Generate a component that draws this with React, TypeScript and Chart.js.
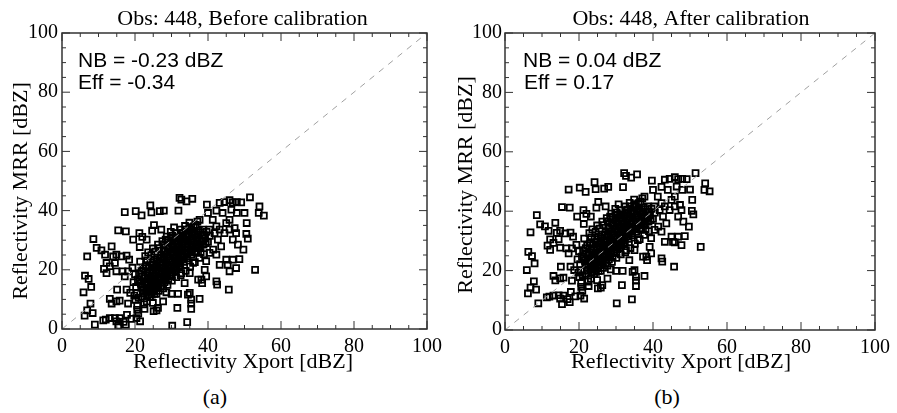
import React, { useEffect, useRef } from "react";
import { Chart, registerables } from "chart.js";
Chart.register(...registerables);

// ---------------- data ----------------
const BEFORE_POINTS: [number, number][] = [
  [8.6,30.4],[6.9,24.5],[9.5,27.4],[6.3,18.0],[7.3,16.9],[8.0,14.2],[5.9,12.4],[7.8,8.6],[6.9,6.3],[8.4,5.4],[6.2,4.5],[9.0,1.5],
  [10.8,26.6],[11.8,25.1],[12.2,22.3],[11.5,20.3],[13.6,27.9],[14.0,24.5],[14.9,25.1],[14.5,22.3],[13.1,21.2],[14.9,19.5],[12.2,18.9],
  [15.4,33.3],[17.5,33.0],[17.2,39.5],[20.2,39.8],[21.8,38.4],[24.2,41.8],[24.5,39.4],[26.8,39.8],[27.9,40.0],
  [15.1,13.3],[13.1,10.2],[13.6,8.6],[14.9,9.3],[15.8,9.6],[12.0,3.2],[11.3,2.9],[13.1,3.7],[14.5,3.7],[14.9,2.6],[15.4,1.1],[15.8,3.7],[16.9,2.4],[17.8,4.8],[17.5,1.5],[19.0,3.4],[20.4,3.7],[21.4,2.6],[20.9,5.2],[20.6,6.5],[18.1,8.6],[18.7,12.2],[17.7,13.3],[17.2,17.8],[16.6,19.5],[18.1,19.5],[16.3,24.5],[17.7,24.8],[18.4,23.4],
  [19.5,30.2],[21.2,32.4],[22.0,31.1],[23.2,30.2],[25.2,35.1],[24.7,33.2],[27.2,33.6],[21.3,27.7],[28.4,30.2],[29.8,32.8],[30.7,34.3],
  [32.2,44.3],[32.7,43.7],[34.1,43.1],[35.7,44.0],[31.9,40.0],[39.7,42.0],[42.3,40.0],[43.2,42.6],[44.5,42.9],[45.9,43.5],[46.8,42.8],[47.9,42.9],[49.1,42.8],[46.4,40.3],[47.9,39.2],[50.0,39.2],[51.5,44.5],[54.1,41.4],[53.9,39.2],[55.3,38.3],
  [50.6,35.8],[50.5,32.1],[50.9,30.5],[49.7,26.8],[48.6,23.6],[47.7,20.6],[45.9,19.5],[45.7,13.3],[52.9,20.0],[46.8,23.4],[45.0,23.4],[45.4,21.7],[45.9,33.6],[47.3,34.1],[47.7,32.4],[46.8,30.2],[48.2,28.5],[44.5,32.4],[43.2,33.6],[42.7,30.2],[43.6,27.9],[42.3,25.1],[41.4,26.8],[43.2,21.7],[42.3,16.1],[42.5,15.0],
  [39.5,22.9],[40.4,25.7],[39.1,20.0],[39.5,17.8],[38.4,15.5],[38.2,16.7],[37.3,16.7],[37.7,10.2],[35.4,9.9],[35.0,12.2],[34.5,11.6],[35.4,8.6],[35.4,6.8],[34.3,2.3],[30.2,1.1],[31.6,7.1],[31.8,11.9],[30.0,11.9],[28.6,12.4],[27.7,9.3],[25.9,6.3],[26.3,7.1],[25.1,6.0],[22.6,6.8],[23.2,9.3],[24.9,8.8],[25.9,11.9],[33.6,15.5],[32.7,18.9],[35.0,18.9],[35.9,22.3],[36.8,25.7],[37.7,36.9],[38.6,33.6],[40.0,39.2],[40.4,33.6],[41.3,36.9],[42.3,34.7],[41.8,32.4],[44.0,39.2],[45.0,35.8],[45.9,36.9],
  [20.3,14.2],[20.8,16.7],[21.1,18.9],[20.5,12.1],[21.6,15.3],[21.9,17.8],[22.2,20.4],[22.4,13.1],[22.7,15.9],[22.9,18.2],[23.1,21.6],[23.3,11.4],[23.5,14.6],[23.8,16.9],[24.0,19.3],[24.2,22.5],[24.4,12.6],[24.6,15.1],[24.8,17.7],[25.0,20.2],[25.2,23.4],[25.4,13.8],[25.6,16.2],[25.8,18.6],[26.0,21.3],[26.2,24.1],[26.4,14.7],[26.6,17.4],[26.8,19.8],[27.0,22.3],[27.2,25.0],[27.4,15.6],[27.6,18.3],[27.8,20.9],[28.0,23.6],[28.2,26.2],[28.4,16.8],[28.6,19.4],[28.8,21.8],[29.0,24.5],[29.2,27.3],[29.4,17.9],[29.6,20.6],[29.8,23.1],[30.0,25.7],[30.2,28.4],[30.4,19.2],[30.6,21.7],[30.8,24.3],[31.0,26.8],[31.2,29.5],[31.4,20.3],[31.6,22.9],[31.8,25.4],[32.0,27.9],[32.2,30.6],[32.4,21.6],[32.6,24.1],[32.8,26.5],[33.0,29.0],[33.2,31.4],[33.4,22.7],[33.6,25.2],[33.8,27.6],[34.0,30.1],[34.2,32.3],[34.4,23.9],[34.6,26.4],[34.8,28.7],[35.0,31.2],[35.2,33.5],[35.5,25.1],[35.8,27.5],[36.0,29.8],[36.3,32.1],[36.6,26.3],[36.9,28.6],[37.2,30.9],[37.5,33.2],[37.8,27.4],[38.1,29.7],[38.4,31.9],[38.8,28.5],[39.2,30.6],[39.6,32.8],[40.0,29.4],[40.5,31.5],
  [21.4,22.8],[22.8,24.6],[23.6,25.9],[24.9,27.2],[26.3,28.5],[27.5,29.7],[28.7,31.2],[29.9,30.5],[31.1,32.4],[32.5,33.6],[33.7,34.8],[34.9,35.9],[36.1,34.7],[37.1,36.3],
  [23.0,12.5],[24.1,10.8],[25.3,11.9],[26.5,12.9],[27.7,13.7],[28.9,14.9],[30.1,16.3],[31.3,17.5],[32.5,18.2],[33.9,19.6],[35.1,21.1],[36.4,22.6],[37.6,24.0],[38.9,25.3],
  [21.7,13.9],[22.1,10.9],[20.0,18.5],[19.6,15.8],[19.3,20.7],[20.1,9.8],[19.8,11.3],[20.6,7.9],[21.0,10.5],[22.5,8.3],[23.9,13.2],[26.1,15.4],[27.3,17.1],[28.1,18.0],[29.3,19.8],[30.7,20.9],[31.9,22.2],[33.1,23.4],[34.3,24.6],[35.6,26.7],[36.8,27.9],[38.0,25.9],
  [21.3,16.0],[21.8,19.6],[22.0,14.4],[22.6,17.1],[22.9,21.0],[23.4,15.5],[23.7,18.0],[23.9,20.8],[24.3,14.0],[24.5,16.4],[24.7,19.0],[24.9,21.7],[25.1,12.8],[25.3,15.2],[25.5,17.6],[25.7,20.1],[25.9,22.7],[26.1,13.9],[26.3,16.6],[26.5,19.0],[26.7,21.5],[26.9,24.0],[27.1,14.5],[27.3,19.2],[27.5,21.6],[27.7,24.2],[27.9,26.6],[28.1,15.8],[28.3,20.2],[28.5,22.6],[28.7,25.1],[28.9,27.7],[29.1,16.5],[29.3,21.1],[29.5,23.7],[29.7,26.2],[29.9,28.9],[30.1,18.0],[30.3,22.5],[30.5,25.0],[30.7,27.4],[30.9,29.9],[31.1,19.7],[31.3,24.0],[31.5,26.1],[31.7,28.4],[31.9,30.8],[32.1,21.0],[32.3,23.2],[32.5,25.5],[32.7,27.6],[32.9,30.2],[33.1,32.5],[33.3,24.3],[33.5,26.5],[33.7,28.8],[33.9,31.1],[34.1,25.4],[34.3,27.7],[34.5,29.6],[34.7,31.9],[34.9,33.8],[35.3,26.0],[35.6,28.4],[35.9,30.7],[36.2,33.0],[36.5,27.2],[36.8,29.5],[37.1,31.8],[37.4,28.0],[37.7,30.3],[38.0,32.6],[38.5,29.9],[39.0,31.6],[39.4,29.0],
  [22.3,12.0],[23.2,13.6],[24.6,11.6],[25.8,14.9],[26.9,16.4],[27.9,17.3],[28.8,18.6],[30.0,21.0],[31.2,23.3],[32.3,26.7],[23.3,23.2],[24.5,25.0],[25.6,26.1],[26.7,27.3],[27.8,28.6],[29.0,29.8],[30.2,31.5],[31.4,31.0],[32.8,32.2],[34.0,33.6],[35.4,34.4],[36.6,35.2]
];

const AFTER_POINTS: [number, number][] = [
  [8.6,38.7],[6.9,32.9],[9.5,35.6],[6.3,26.3],[7.3,24.9],[8.0,22.4],[5.9,20.2],[7.8,16.4],[6.9,14.3],[8.4,13.6],[6.2,12.3],[9.0,9.0],
  [10.8,34.9],[11.8,33.4],[12.2,30.5],[11.5,28.4],[13.6,36.1],[14.0,32.7],[14.9,33.4],[14.5,30.6],[13.1,29.3],[14.9,27.7],[12.2,27.0],
  [15.4,41.4],[17.5,41.2],[17.2,47.3],[20.2,47.9],[21.8,46.5],[24.2,49.8],[24.5,47.4],[26.8,47.6],[27.9,48.2],
  [15.1,21.3],[13.1,18.2],[13.6,16.7],[14.9,17.4],[15.8,17.6],[12.0,11.2],[11.3,11.0],[13.1,11.6],[14.5,11.7],[14.9,10.6],[15.4,8.7],[15.8,11.6],[16.9,10.4],[17.8,12.8],[17.5,9.4],[19.0,11.3],[20.4,11.6],[21.4,10.6],[20.9,13.2],[20.6,14.5],[18.1,16.6],[18.7,20.2],[17.7,21.3],[17.2,25.8],[16.6,27.5],[18.1,27.5],[16.3,32.5],[17.7,32.8],[18.4,31.4],
  [19.5,38.2],[21.2,40.4],[22.0,39.1],[23.2,38.2],[25.2,43.1],[24.7,41.2],[27.2,41.6],[21.3,35.7],[28.4,38.2],[29.8,40.8],[30.7,42.3],
  [32.2,52.8],[32.7,51.9],[34.1,51.3],[35.7,52.4],[31.9,48.1],[39.7,50.3],[42.3,48.2],[43.2,50.6],[44.5,50.9],[45.9,51.5],[46.8,50.8],[47.9,50.9],[49.1,50.8],[46.4,48.3],[47.9,47.2],[50.0,47.3],[51.5,52.8],[54.1,49.4],[53.9,47.2],[55.3,46.7],
  [50.6,43.8],[50.5,40.1],[50.9,38.9],[49.7,34.8],[48.6,31.6],[47.7,28.6],[45.9,29.5],[45.7,21.3],[52.9,28.0],[46.8,31.4],[45.0,31.4],[45.4,29.7],[45.9,41.6],[47.3,42.1],[47.7,40.4],[46.8,38.2],[48.2,36.5],[44.5,40.4],[43.2,41.6],[42.7,38.2],[43.6,35.9],[42.3,33.1],[41.4,34.8],[43.2,29.7],[42.3,24.1],[42.5,23.0],
  [39.5,30.9],[40.4,33.7],[39.1,28.0],[39.5,25.8],[38.4,23.5],[38.2,24.7],[37.3,24.7],[37.7,18.2],[35.4,17.9],[35.0,20.2],[34.5,19.6],[35.4,16.6],[35.4,14.8],[34.3,10.3],[30.2,9.0],[31.6,15.1],[31.8,19.9],[30.0,19.9],[28.6,20.4],[27.7,17.3],[25.9,14.3],[26.3,15.1],[25.1,14.0],[22.6,14.8],[23.2,17.3],[24.9,16.8],[25.9,19.9],[33.6,23.5],[32.7,26.9],[35.0,26.9],[35.9,30.3],[36.8,33.7],[37.7,44.9],[38.6,41.6],[40.0,47.2],[40.4,41.6],[41.3,44.9],[42.3,42.7],[41.8,40.4],[44.0,47.2],[45.0,43.8],[45.9,44.9],
  [20.3,22.2],[20.8,24.7],[21.1,26.9],[20.5,20.1],[21.6,23.3],[21.9,25.8],[22.2,28.4],[22.4,21.1],[22.7,23.9],[22.9,26.2],[23.1,29.6],[23.3,19.4],[23.5,22.6],[23.8,24.9],[24.0,27.3],[24.2,30.5],[24.4,20.6],[24.6,23.1],[24.8,25.7],[25.0,28.2],[25.2,31.4],[25.4,21.8],[25.6,24.2],[25.8,26.6],[26.0,29.3],[26.2,32.1],[26.4,22.7],[26.6,25.4],[26.8,27.8],[27.0,30.3],[27.2,33.0],[27.4,23.6],[27.6,26.3],[27.8,28.9],[28.0,31.6],[28.2,34.2],[28.4,24.8],[28.6,27.4],[28.8,29.8],[29.0,32.5],[29.2,35.3],[29.4,25.9],[29.6,28.6],[29.8,31.1],[30.0,33.7],[30.2,36.4],[30.4,27.2],[30.6,29.7],[30.8,32.3],[31.0,34.8],[31.2,37.5],[31.4,28.3],[31.6,30.9],[31.8,33.4],[32.0,35.9],[32.2,38.6],[32.4,29.6],[32.6,32.1],[32.8,34.5],[33.0,37.0],[33.2,39.4],[33.4,30.7],[33.6,33.2],[33.8,35.6],[34.0,38.1],[34.2,40.3],[34.4,31.9],[34.6,34.4],[34.8,36.7],[35.0,39.2],[35.2,41.5],[35.5,33.1],[35.8,35.5],[36.0,37.8],[36.3,40.1],[36.6,34.3],[36.9,36.6],[37.2,38.9],[37.5,41.2],[37.8,35.4],[38.1,37.7],[38.4,39.9],[38.8,36.5],[39.2,38.6],[39.6,40.8],[40.0,37.4],[40.5,39.5],
  [21.4,30.8],[22.8,32.6],[23.6,33.9],[24.9,35.2],[26.3,36.5],[27.5,37.7],[28.7,39.2],[29.9,38.5],[31.1,40.4],[32.5,41.6],[33.7,42.8],[34.9,43.9],[36.1,42.7],[37.1,44.3],
  [23.0,20.5],[24.1,18.8],[25.3,19.9],[26.5,20.9],[27.7,21.7],[28.9,22.9],[30.1,24.3],[31.3,25.5],[32.5,26.2],[33.9,27.6],[35.1,29.1],[36.4,30.6],[37.6,32.0],[38.9,33.3],
  [21.7,21.9],[22.1,18.9],[20.0,26.5],[19.6,23.8],[19.3,28.7],[20.1,17.8],[19.8,19.3],[20.6,15.9],[21.0,18.5],[22.5,16.3],[23.9,21.2],[26.1,23.4],[27.3,25.1],[28.1,26.0],[29.3,27.8],[30.7,28.9],[31.9,30.2],[33.1,31.4],[34.3,32.6],[35.6,34.7],[36.8,35.9],[38.0,33.9],
  [21.3,24.0],[21.8,27.6],[22.0,22.4],[22.6,25.1],[22.9,29.0],[23.4,23.5],[23.7,26.0],[23.9,28.8],[24.3,22.0],[24.5,24.4],[24.7,27.0],[24.9,29.7],[25.1,20.8],[25.3,23.2],[25.5,25.6],[25.7,28.1],[25.9,30.7],[26.1,21.9],[26.3,24.6],[26.5,27.0],[26.7,29.5],[26.9,32.0],[27.1,22.5],[27.3,27.2],[27.5,29.6],[27.7,32.2],[27.9,34.6],[28.1,23.8],[28.3,28.2],[28.5,30.6],[28.7,33.1],[28.9,35.7],[29.1,24.5],[29.3,29.1],[29.5,31.7],[29.7,34.2],[29.9,36.9],[30.1,26.0],[30.3,30.5],[30.5,33.0],[30.7,35.4],[30.9,37.9],[31.1,27.7],[31.3,32.0],[31.5,34.1],[31.7,36.4],[31.9,38.8],[32.1,29.0],[32.3,31.2],[32.5,33.5],[32.7,35.6],[32.9,38.2],[33.1,40.5],[33.3,32.3],[33.5,34.5],[33.7,36.8],[33.9,39.1],[34.1,33.4],[34.3,35.7],[34.5,37.6],[34.7,39.9],[34.9,41.8],[35.3,34.0],[35.6,36.4],[35.9,38.7],[36.2,41.0],[36.5,35.2],[36.8,37.5],[37.1,39.8],[37.4,36.0],[37.7,38.3],[38.0,40.6],[38.5,37.9],[39.0,39.6],[39.4,37.0],
  [22.3,20.0],[23.2,21.6],[24.6,19.6],[25.8,22.9],[26.9,24.4],[27.9,25.3],[28.8,26.6],[30.0,29.0],[31.2,31.3],[32.3,34.7],[23.3,31.2],[24.5,33.0],[25.6,34.1],[26.7,35.3],[27.8,36.6],[29.0,37.8],[30.2,39.5],[31.4,39.0],[32.8,40.2],[34.0,41.6],[35.4,42.4],[36.6,43.2]
];

const DIAGONAL: [number, number][] = [[0, 0], [100, 100]];
const MAJOR_TICKS = [0, 20, 40, 60, 80, 100];
const MINOR_TICKS = [0, 5, 10, 15, 20, 25, 30, 35, 40, 45, 50, 55, 60, 65, 70, 75, 80, 85, 90, 95, 100];
const TITLES = ["Obs: 448, Before calibration", "Obs: 448, After calibration"];
const NB_LABELS = ["NB = -0.23 dBZ", "NB = 0.04 dBZ"];
const EFF_LABELS = ["Eff = -0.34", "Eff = 0.17"];
const X_TITLE = "Reflectivity Xport [dBZ]";
const Y_TITLE = "Reflectivity MRR [dBZ]";
const CAPTIONS = ["(a)", "(b)"];

const SERIF = '"Liberation Serif", "Times New Roman", serif';
const SANS = '"Liberation Sans", Arial, sans-serif';

const decorPlugin = {
  id: "panelDecor",
  afterDraw(chart: any, _args: any, opts: any) {
    const { ctx, chartArea: a, scales } = chart;
    const xs = scales.x;
    const ys = scales.y;
    ctx.save();
    ctx.strokeStyle = "#333";
    ctx.lineWidth = 1;
    const line = (x1: number, y1: number, x2: number, y2: number) => {
      ctx.beginPath();
      ctx.moveTo(x1, y1);
      ctx.lineTo(x2, y2);
      ctx.stroke();
    };
    for (const v of MINOR_TICKS) {
      const len = MAJOR_TICKS.includes(v) ? 8 : 4;
      const px = xs.getPixelForValue(v);
      line(px, a.bottom, px, a.bottom - len);
      line(px, a.top, px, a.top + len);
      const py = ys.getPixelForValue(v);
      line(a.left, py, a.left + len, py);
      line(a.right, py, a.right - len, py);
    }
    ctx.lineWidth = 1.5;
    ctx.strokeRect(a.left, a.top, a.right - a.left, a.bottom - a.top);

    ctx.fillStyle = "#000";
    ctx.font = "22px " + SERIF;
    ctx.textAlign = "center";
    ctx.textBaseline = "middle";
    ctx.fillText(opts.title, opts.titleX, opts.titleY);
    ctx.fillText(X_TITLE, opts.xTitleX, opts.xTitleY);
    ctx.save();
    ctx.translate(opts.yTitleX, opts.yTitleY);
    ctx.rotate(-Math.PI / 2);
    ctx.fillText(Y_TITLE, 0, 0);
    ctx.restore();

    ctx.font = "21px " + SANS;
    ctx.textAlign = "left";
    ctx.fillText(opts.nb, opts.annX, opts.nbY);
    ctx.fillText(opts.eff, opts.annX + opts.effDx, opts.effY);
    ctx.restore();
  },
};

type PanelProps = {
  points: [number, number][];
  title: string;
  nb: string;
  eff: string;
  width: number;
  height: number;
  yAxisWidth: number;
  xAxisHeight: number;
  padRight: number;
  yTickPad: number;
  decor: any;
};

function Panel(p: PanelProps) {
  const ref = useRef<HTMLCanvasElement | null>(null);
  useEffect(() => {
    if (!ref.current) return;
    const chart = new Chart(ref.current, {
      type: "scatter",
      data: {
        datasets: [
          {
            type: "line",
            data: DIAGONAL.map(([x, y]) => ({ x, y })),
            borderColor: "#a0a0a0",
            borderWidth: 1,
            borderDash: [6, 6],
            pointRadius: 0,
            fill: false,
          } as any,
          {
            data: p.points.map(([x, y]) => ({ x, y })),
            pointStyle: "rect",
            pointRadius: 4.2,
            pointBorderWidth: 1.8,
            pointBorderColor: "#000",
            pointBackgroundColor: "rgba(0,0,0,0)",
            borderColor: "#000",
            backgroundColor: "rgba(0,0,0,0)",
            showLine: false,
          } as any,
        ],
      },
      options: {
        animation: false,
        responsive: false,
        events: [],
        layout: { padding: { top: 33, right: p.padRight, bottom: 0, left: 0 } },
        plugins: {
          legend: { display: false },
          tooltip: { enabled: false },
          title: { display: false },
          panelDecor: { ...p.decor, title: p.title, nb: p.nb, eff: p.eff },
        } as any,
        scales: {
          x: {
            type: "linear",
            min: 0,
            max: 100,
            grid: { display: false, drawTicks: false },
            border: { display: false },
            ticks: {
              stepSize: 20,
              padding: 6,
              color: "#000",
              font: { family: SERIF, size: 20 },
              maxRotation: 0,
              autoSkip: false,
            },
            afterFit: (s: any) => {
              s.height = p.xAxisHeight;
            },
          },
          y: {
            type: "linear",
            min: 0,
            max: 100,
            grid: { display: false, drawTicks: false },
            border: { display: false },
            ticks: {
              stepSize: 20,
              padding: p.yTickPad,
              color: "#000",
              font: { family: SERIF, size: 20 },
              autoSkip: false,
            },
            afterFit: (s: any) => {
              s.width = p.yAxisWidth;
            },
          },
        },
      },
      plugins: [decorPlugin as any],
    });
    return () => chart.destroy();
  }, []);
  return <canvas ref={ref} width={p.width} height={p.height} style={{ width: p.width, height: p.height, display: "block" }} />;
}

export default function App() {
  return (
    <div style={{ position: "absolute", left: 0, top: 0, width: 897, height: 413, background: "#fff", overflow: "hidden" }}>
      <div style={{ position: "absolute", left: 0, top: 0 }}>
        <Panel
          points={BEFORE_POINTS}
          title={TITLES[0]}
          nb={NB_LABELS[0]}
          eff={EFF_LABELS[0]}
          width={448}
          height={380}
          yAxisWidth={62}
          xAxisHeight={51}
          padRight={20}
          yTickPad={4}
          decor={{ titleX: 242.5, titleY: 19.5, xTitleX: 243, xTitleY: 362, yTitleX: 21, yTitleY: 191, annX: 78, nbY: 61, effY: 83, effDx: 0 }}
        />
      </div>
      <div style={{ position: "absolute", left: 448, top: 0 }}>
        <Panel
          points={AFTER_POINTS}
          title={TITLES[1]}
          nb={NB_LABELS[1]}
          eff={EFF_LABELS[1]}
          width={449}
          height={380}
          yAxisWidth={57}
          xAxisHeight={50}
          padRight={22}
          yTickPad={3}
          decor={{ titleX: 243, titleY: 19.5, xTitleX: 233, xTitleY: 362.5, yTitleX: 18.5, yTitleY: 185, annX: 75, nbY: 61, effY: 83, effDx: 1 }}
        />
      </div>
      <div style={{ position: "absolute", left: 165, width: 100, top: 384, textAlign: "center", font: "22px " + SERIF, lineHeight: "26px", color: "#000" }}>
        {CAPTIONS[0]}
      </div>
      <div style={{ position: "absolute", left: 617, width: 100, top: 384, textAlign: "center", font: "22px " + SERIF, lineHeight: "26px", color: "#000" }}>
        {CAPTIONS[1]}
      </div>
    </div>
  );
}
